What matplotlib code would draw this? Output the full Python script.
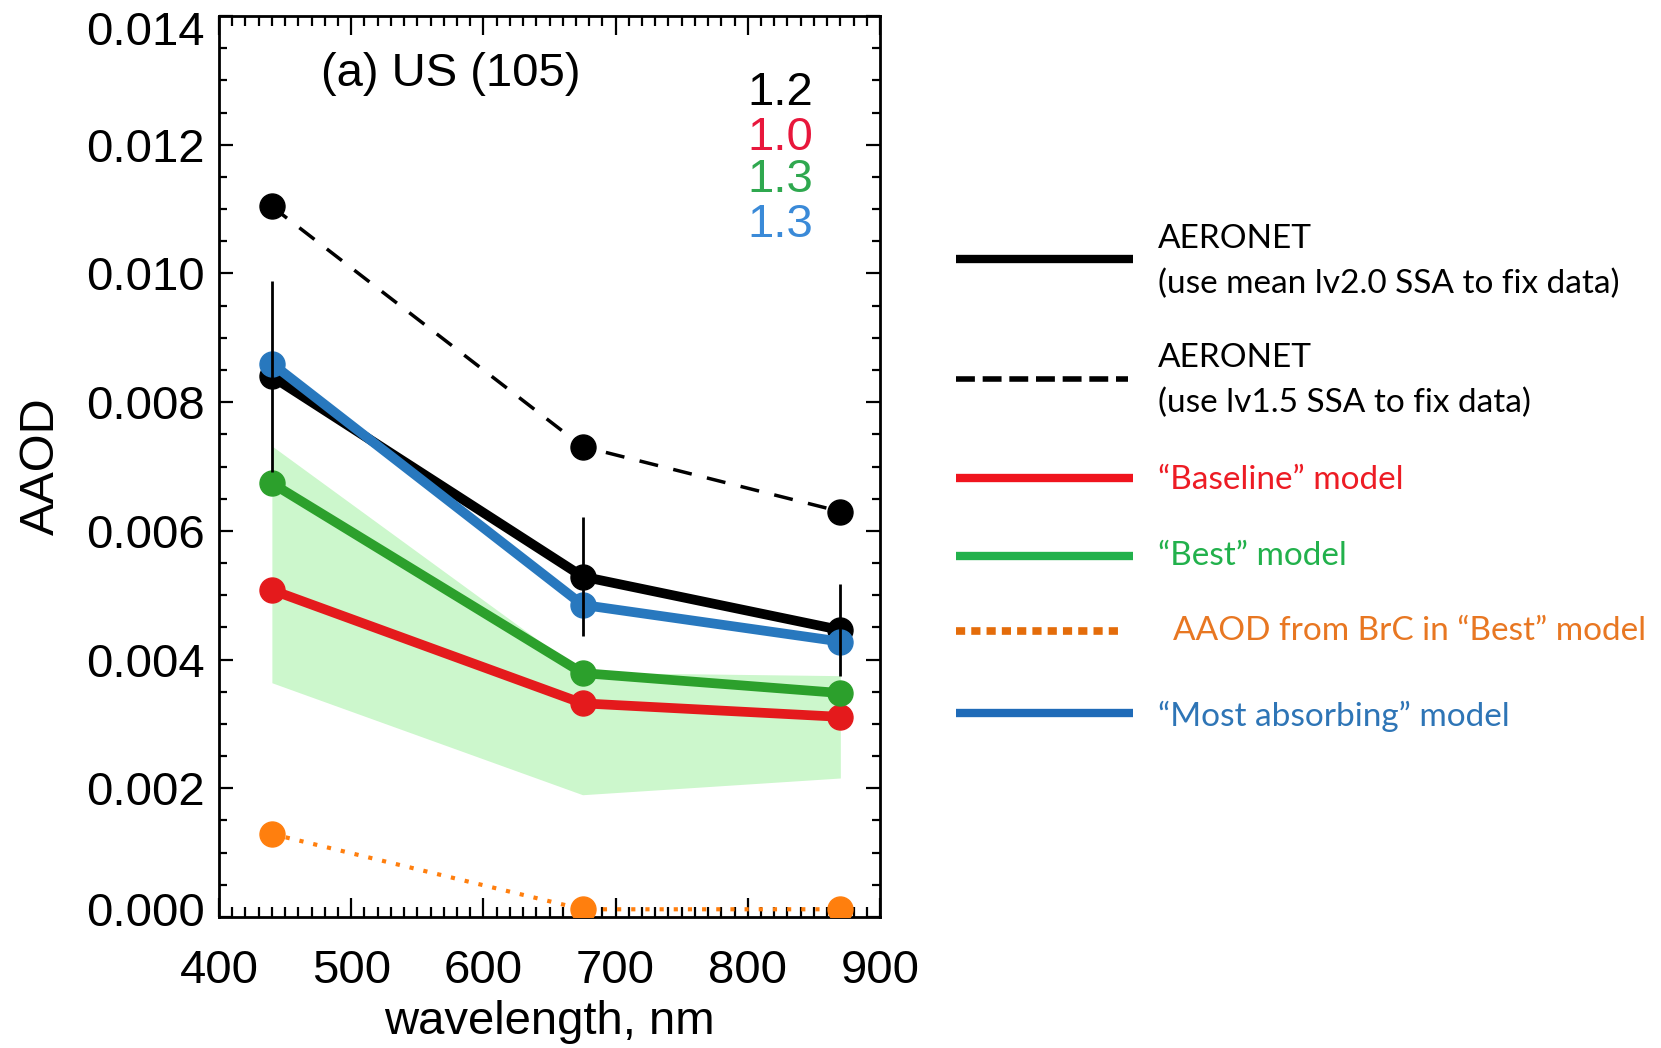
import matplotlib
matplotlib.use("Agg")
import matplotlib.pyplot as plt
import matplotlib.transforms as mtransforms
import numpy as np
from matplotlib.lines import Line2D
from matplotlib.ticker import MultipleLocator, FormatStrFormatter

# ---- data ----
wavelength = [440, 675, 870]
aeronet_lv20 = [0.00840, 0.00529, 0.00446]
aeronet_lv20_err = [0.00148, 0.00093, 0.00071]
aeronet_lv15 = [0.01104, 0.00731, 0.00630]
baseline = [0.00508, 0.00332, 0.00311]
best = [0.00674, 0.00379, 0.00348]
best_low = [0.00364, 0.00190, 0.00216]
best_high = [0.00732, 0.00380, 0.00375]
brc_best = [0.00129, 0.00012, 0.00012]
most_absorbing = [0.00860, 0.00485, 0.00428]

aae_labels = ["1.2", "1.0", "1.3", "1.3"]
aae_colors = ["black", "#e8173c", "#2fa84f", "#3a8ad8"]

legend_labels = [
    ["AERONET", "(use mean lv2.0 SSA to fix data)"],
    ["AERONET", "(use lv1.5 SSA to fix data)"],
    ["\u201cBaseline\u201d model"],
    ["\u201cBest\u201d model"],
    ["AAOD from BrC in \u201cBest\u201d model"],
    ["\u201cMost absorbing\u201d model"],
]
legend_line_colors = ["black", "black", "#f0141e", "#22b14c", "#e46c0a", "#1f6bb8"]
legend_text_colors = ["black", "black", "#ed1c24", "#22b14c", "#e87722", "#2e75b6"]
legend_styles = ["-", (0, (3.4, 1.4)), "-", "-", (0, (1.2, 0.8)), "-"]

RED = "#e41a1c"
GREEN = "#2ca02c"
BLUE = "#2878be"
ORANGE = "#ff7f0e"

plt.rcParams["font.family"] = ["Liberation Sans", "DejaVu Sans"]

W, H = 1661, 1048
fig = plt.figure(figsize=(W / 100, H / 100), dpi=100)
ax = fig.add_axes([219 / W, 1 - 917 / H, 661 / W, 901 / H])

ax.fill_between(wavelength, best_low, best_high, color="#ccf7cc", lw=0, zorder=1)

ms = 18
lw = 7
ax.plot(wavelength, baseline, "-o", color=RED, lw=lw, ms=ms, zorder=3)
ax.plot(wavelength, best, "-o", color=GREEN, lw=lw, ms=ms, zorder=3)
ax.plot(wavelength, aeronet_lv20, "-o", color="black", lw=lw, ms=ms, zorder=4)
ax.plot(wavelength, most_absorbing, "-o", color=BLUE, lw=lw, ms=ms, zorder=5)
ax.plot(wavelength, aeronet_lv15, "o", color="black", ms=ms, zorder=4)
ax.plot(wavelength, aeronet_lv15, color="black", lw=2.5,
        ls=(0, (5.5, 4.5)), zorder=4)
ax.plot(wavelength, brc_best, "o", color=ORANGE, ms=ms, zorder=6)
ax.plot(wavelength, brc_best, color=ORANGE, lw=3, ls=(0, (1.0, 2.4)), zorder=6)
ax.errorbar(wavelength, aeronet_lv20, yerr=aeronet_lv20_err, fmt="none",
            ecolor="black", elinewidth=2.0, capsize=0, zorder=7)

ax.set_xlim(400, 900)
ax.set_ylim(0, 0.014)
ax.xaxis.set_major_locator(MultipleLocator(100))
ax.xaxis.set_minor_locator(MultipleLocator(10))
ax.set_yticks(np.round(np.arange(0, 0.0141, 0.002), 3))
ax.yaxis.set_minor_locator(MultipleLocator(0.0005))
ax.yaxis.set_major_formatter(FormatStrFormatter("%.3f"))

ax.tick_params(which="both", direction="in", top=True, right=True,
               width=1.6, labelsize=34, colors="black")
ax.tick_params(axis="x", which="major", length=14, pad=23)
ax.tick_params(axis="x", which="minor", length=7)
ax.tick_params(axis="y", which="major", length=10, pad=10)
ax.tick_params(axis="y", which="minor", length=6)
for sp in ax.spines.values():
    sp.set_linewidth(2.0)

# end labels sit a little inside the frame, as in the original
yticks = ax.yaxis.get_major_ticks()
yticks[0].label1.set_transform(yticks[0].label1.get_transform()
                               + mtransforms.ScaledTranslation(0, 6 / 72, fig.dpi_scale_trans))
yticks[-1].label1.set_transform(yticks[-1].label1.get_transform()
                                + mtransforms.ScaledTranslation(0, -9 / 72, fig.dpi_scale_trans))

ax.set_xlabel("wavelength, nm", fontsize=34, labelpad=5)
ax.set_ylabel("AAOD", fontsize=35, labelpad=16)

ax.text(0.154, 0.9356, "(a) US (105)", transform=ax.transAxes,
        fontsize=34, ha="left", va="center")
aae_y = [0.9145, 0.8646, 0.8180, 0.7685]
for lab, col, yy in zip(aae_labels, aae_colors, aae_y):
    ax.text(0.899, yy, lab, transform=ax.transAxes, fontsize=34,
            color=col, ha="right", va="center")

# ---- hand-drawn legend on the right ----
lax = fig.add_axes([0, 0, 1, 1])
lax.set_xlim(0, W)
lax.set_ylim(H, 0)
lax.axis("off")

line_y = [259, 379, 478, 556, 631, 713]
text_y = [[239, 284], [358, 403], [480], [556], [631], [716]]
text_x = [1158, 1158, 1158, 1158, 1173, 1158]
line_end = [1133, 1128, 1133, 1133, 1124, 1133]
line_w = [6.0, 4.0, 6.0, 6.0, 5.5, 6.0]

for i in range(len(legend_labels)):
    lax.add_line(Line2D([956, line_end[i]], [line_y[i], line_y[i]],
                        color=legend_line_colors[i], lw=line_w[i],
                        ls=legend_styles[i], solid_capstyle="butt",
                        dash_capstyle="butt"))
    for txt, ty in zip(legend_labels[i], text_y[i]):
        lax.text(text_x[i], ty, txt, fontsize=24, family=["Lato", "DejaVu Sans"],
                 color=legend_text_colors[i], ha="left", va="center")

fig.savefig("out.png", dpi=100)
